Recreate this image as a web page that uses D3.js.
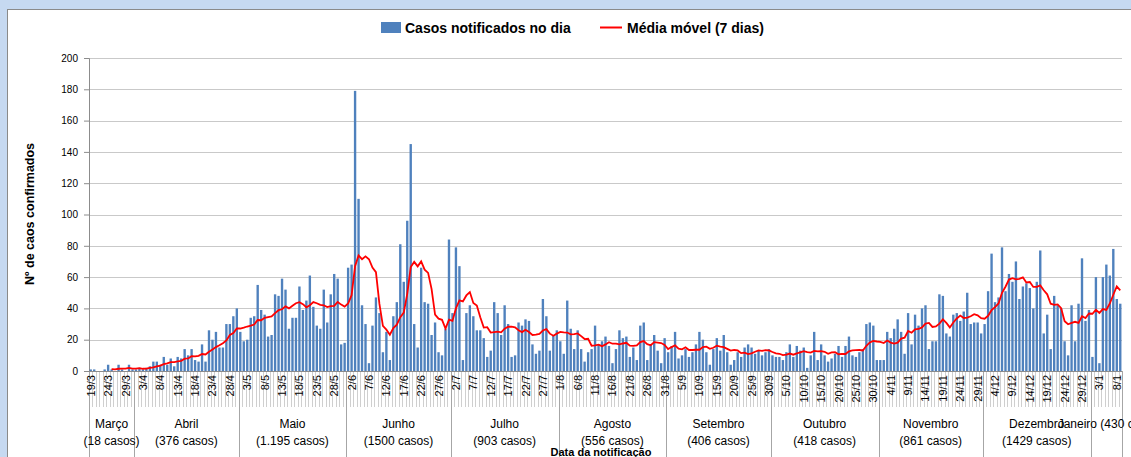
<!DOCTYPE html>
<html><head><meta charset="utf-8">
<script src="https://cdn.jsdelivr.net/npm/d3@7"></script>
<style>
body{margin:0;background:#c6d9f1;}
svg{display:block;font-family:"Liberation Sans",Arial,sans-serif;}
</style></head><body>
<svg id="c" width="1131" height="457"></svg>
<script>
// ---- data ----
const meses = ["Março","Abril","Maio","Junho","Julho","Agosto","Setembro","Outubro","Novembro","Dezembro","Janeiro"];
const totaisMes = ["(18 casos)","(376 casos)","(1.195 casos)","(1500 casos)","(903 casos)","(556 casos)","(406 casos)","(418 casos)","(861 casos)","(1429 casos)","(430 casos)"];
const marco = [1,1,0,0,1,4,1,0,4,1,0,4,1];
const abril = [1,2,1,2,3,6,6,4,9,4,8,3,9,8,14,10,14,7,6,17,6,26,20,25,15,15,30,30,35,40];
const maio = [25,19,20,34,35,55,39,36,22,23,49,48,59,52,27,34,34,54,39,45,61,41,29,27,52,31,49,62,59,17,18];
const junho = [66,68,179,110,42,30,5,29,47,37,12,25,7,35,44,81,57,96,145,30,15,66,44,43,23,31,12,10,27,84];
const julho = [37,79,67,7,37,42,35,26,26,21,9,13,44,37,23,42,30,9,10,31,29,33,32,17,11,13,46,35,13,23,26];
const agosto = [19,11,45,27,14,26,14,6,12,14,29,17,19,22,16,5,14,26,21,22,9,15,7,29,31,7,17,23,13,5,21];
const setembro = [12,16,25,8,10,14,9,12,17,25,20,12,4,14,21,13,23,12,4,7,12,9,15,17,15,11,13,10,12,14];
const outubro = [10,9,9,7,12,17,9,16,13,15,2,10,25,7,17,10,6,8,11,16,9,16,22,10,9,12,14,30,31,29,7];
const novembro = [7,7,25,21,27,33,25,11,37,17,36,29,40,42,14,19,19,49,48,24,22,36,37,32,38,50,30,31,31,24];
const dezembro = [30,51,75,44,47,79,51,62,57,70,46,54,56,53,40,57,77,24,36,14,48,42,40,19,10,42,19,43,72,32,39];
const janeiro = [9,60,5,60,68,61,78,46,43];
const yTicks = [0,20,40,60,80,100,120,140,160,180,200];
const primeiroDia = "2020-03-19";
const legenda = ["Casos notificados no dia","Média móvel (7 dias)"];

// ---- build ----
const porMes = [marco,abril,maio,junho,julho,agosto,setembro,outubro,novembro,dezembro,janeiro];
const valores = [].concat(...porMes);
const N = valores.length;
const inicio = d3.timeParse("%Y-%m-%d")(primeiroDia);
const dias = valores.map((v,i)=>d3.timeDay.offset(inicio,i));
const fmt = d => d.getDate()+"/"+(d.getMonth()+1);
const media = valores.map((v,i)=> i<6 ? null : d3.mean(valores.slice(i-6,i+1)));

const P = {left:89,right:1122,top:58,bottom:371};
const svg = d3.select("#c");
svg.append("rect").attr("width",1131).attr("height",457).attr("fill","#c6d9f1");
svg.append("rect").attr("x",7.5).attr("y",9.5).attr("width",1140).attr("height",470)
   .attr("fill","#fff").attr("stroke","#8a8a8a");

const x = d3.scaleBand().domain(d3.range(N)).range([P.left,P.right]).paddingInner(0.32).paddingOuter(0.16);
const step = x.step();
const y = d3.scaleLinear().domain([0,200]).range([P.bottom,P.top]);

// gridlines
svg.append("g").selectAll("line").data(yTicks.filter(t=>t>0)).join("line")
  .attr("x1",P.left).attr("x2",P.right).attr("y1",d=>Math.round(y(d))+0.5).attr("y2",d=>Math.round(y(d))+0.5)
  .attr("stroke","#c9c9c9");

// y axis
const ya = svg.append("g").attr("transform",`translate(${P.left},0)`)
  .call(d3.axisLeft(y).tickValues(yTicks).tickSize(5).tickPadding(6));
ya.select(".domain").attr("stroke","#8c8c8c");
ya.selectAll(".tick line").attr("stroke","#8c8c8c");
ya.selectAll("text").attr("font-size","10px").attr("fill","#000").attr("font-family","Liberation Sans, Arial, sans-serif");

// bars
svg.append("g").selectAll("rect").data(valores).join("rect")
  .attr("x",(d,i)=>x(i)).attr("width",x.bandwidth())
  .attr("y",d=>y(d)).attr("height",d=>y(0)-y(d)).attr("fill","#4f81bd");

// category separators
const monthStarts = [];
{ let acc=0; porMes.forEach(m=>{monthStarts.push(acc); acc+=m.length;}); monthStarts.push(acc); }
svg.append("g").selectAll("line").data(d3.range(N+1)).join("line")
  .attr("x1",i=>Math.round(P.left+i*step)+0.5).attr("x2",i=>Math.round(P.left+i*step)+0.5)
  .attr("y1",P.bottom).attr("y2",407).attr("stroke","#cfcfcf");
svg.append("g").selectAll("line").data(monthStarts).join("line")
  .attr("x1",i=>Math.round(P.left+i*step)+0.5).attr("x2",i=>Math.round(P.left+i*step)+0.5)
  .attr("y1",P.bottom).attr("y2",460).attr("stroke","#a6a6a6");

// x axis line
svg.append("line").attr("x1",P.left).attr("x2",P.right).attr("y1",P.bottom+0.5).attr("y2",P.bottom+0.5).attr("stroke","#8c8c8c");

// tick labels
svg.append("g").selectAll("text").data(d3.range(0,N,5)).join("text")
  .attr("transform",i=>`translate(${x(i)+x.bandwidth()/2+4},${P.bottom+4}) rotate(-90)`)
  .attr("text-anchor","end").attr("font-size","11px").text(i=>fmt(dias[i]));

// month labels
const mg = svg.append("g").attr("font-size","12px").attr("text-anchor","middle");
porMes.forEach((m,k)=>{
  const cx = P.left + (monthStarts[k]+monthStarts[k+1])/2*step;
  if (m.length < 12) {
    mg.append("text").attr("x",cx+4).attr("y",428).text(meses[k]+" "+totaisMes[k]);
  } else {
    mg.append("text").attr("x",cx).attr("y",428).text(meses[k]);
    mg.append("text").attr("x",cx).attr("y",445).text(totaisMes[k]);
  }
});

// moving average
const line = d3.line().defined(d=>d!=null).x((d,i)=>x(i)+x.bandwidth()/2).y(d=>y(d));
svg.append("path").datum(media).attr("d",line).attr("fill","none").attr("stroke","#ff0000").attr("stroke-width",1.8);

// axis titles
svg.append("text").attr("transform","translate(34,214) rotate(-90)").attr("text-anchor","middle")
  .attr("font-size","12.5px").attr("font-weight","bold").text("Nº de caos confirmados");
svg.append("text").attr("x",601).attr("y",456).attr("text-anchor","middle")
  .attr("font-size","11px").attr("font-weight","bold").text("Data da notificação");

// legend
const lg = svg.append("g").attr("font-size","14px").attr("font-weight","bold");
lg.append("rect").attr("x",381).attr("y",22).attr("width",20).attr("height",11).attr("fill","#4f81bd");
lg.append("text").attr("x",405).attr("y",33).text(legenda[0]);
lg.append("line").attr("x1",600).attr("x2",622).attr("y1",27.5).attr("y2",27.5).attr("stroke","#ff0000").attr("stroke-width",2);
lg.append("text").attr("x",627).attr("y",33).text(legenda[1]);
</script>
</body></html>
